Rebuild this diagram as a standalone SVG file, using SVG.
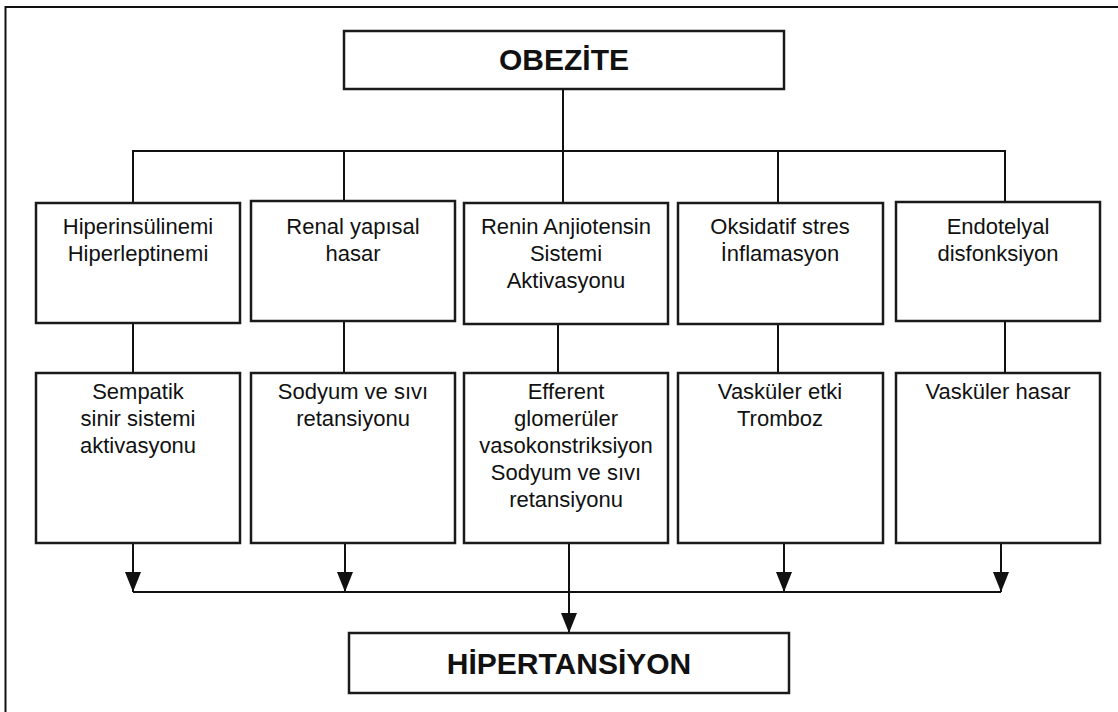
<svg xmlns="http://www.w3.org/2000/svg" width="1118" height="712" viewBox="0 0 1118 712">
  <defs>
    <marker id="arrow" viewBox="0 0 20 16" refX="20" refY="8" markerWidth="20" markerHeight="16" markerUnits="userSpaceOnUse" orient="auto">
      <path d="M0,0 L20,8 L0,16 Z" fill="#111"/>
    </marker>
    <style>
      .box { fill: #fff; stroke: #1a1a1a; stroke-width: 2.5; }
      .line { fill: none; stroke: #111; stroke-width: 2; }
      .t { font-family: "Liberation Sans", Arial, Helvetica, sans-serif; font-size: 22px; fill: #111; text-anchor: middle; }
      .title { font-family: "Liberation Sans", Arial, Helvetica, sans-serif; font-size: 30px; font-weight: bold; fill: #111; text-anchor: middle; }
    </style>
  </defs>
  <rect x="0" y="0" width="1118" height="712" fill="#fff"/>
  <path d="M5.5,712 L5.5,7 L1118,7" fill="none" stroke="#111" stroke-width="2"/>

  <g id="connectors">
    <path class="line" d="M563,89 L563,151"/>
    <path class="line" d="M133,203 L133,151 L1005,151 L1005,202"/>
    <path class="line" d="M344,151 L344,201"/>
    <path class="line" d="M563,151 L563,203"/>
    <path class="line" d="M778,151 L778,203"/>
    <path class="line" d="M133,323 L133,373"/>
    <path class="line" d="M344,321 L344,373"/>
    <path class="line" d="M558,324 L558,373"/>
    <path class="line" d="M778,324 L778,373"/>
    <path class="line" d="M1005,321 L1005,373"/>
    <path class="line" d="M133,543 L133,592" marker-end="url(#arrow)"/>
    <path class="line" d="M345,543 L345,592" marker-end="url(#arrow)"/>
    <path class="line" d="M784,543 L784,592" marker-end="url(#arrow)"/>
    <path class="line" d="M1001,543 L1001,592" marker-end="url(#arrow)"/>
    <path class="line" d="M133,592 L1001,592"/>
    <path class="line" d="M569,543 L569,633" marker-end="url(#arrow)"/>
  </g>

  <g id="obezite">
    <rect class="box" x="344" y="31" width="440" height="58"/>
    <text class="title" x="564" y="70">OBEZİTE</text>
  </g>

  <g id="hiperinsulinemi">
    <rect class="box" x="36" y="203" width="204" height="120"/>
    <text class="t" x="138" y="234">Hiperinsülinemi</text>
    <text class="t" x="138" y="261">Hiperleptinemi</text>
  </g>
  <g id="renal">
    <rect class="box" x="251" y="201" width="204" height="120"/>
    <text class="t" x="353" y="234">Renal yapısal</text>
    <text class="t" x="353" y="261">hasar</text>
  </g>
  <g id="renin">
    <rect class="box" x="464" y="203" width="204" height="121"/>
    <text class="t" x="566" y="234">Renin Anjiotensin</text>
    <text class="t" x="566" y="261">Sistemi</text>
    <text class="t" x="566" y="288">Aktivasyonu</text>
  </g>
  <g id="oksidatif">
    <rect class="box" x="678" y="203" width="205" height="121"/>
    <text class="t" x="780" y="234">Oksidatif stres</text>
    <text class="t" x="780" y="261">İnflamasyon</text>
  </g>
  <g id="endotelyal">
    <rect class="box" x="896" y="202" width="204" height="119"/>
    <text class="t" x="998" y="234">Endotelyal</text>
    <text class="t" x="998" y="261">disfonksiyon</text>
  </g>

  <g id="sempatik">
    <rect class="box" x="36" y="373" width="204" height="170"/>
    <text class="t" x="138" y="399">Sempatik</text>
    <text class="t" x="138" y="426">sinir sistemi</text>
    <text class="t" x="138" y="453">aktivasyonu</text>
  </g>
  <g id="sodyum">
    <rect class="box" x="251" y="373" width="204" height="170"/>
    <text class="t" x="353" y="399">Sodyum ve sıvı</text>
    <text class="t" x="353" y="426">retansiyonu</text>
  </g>
  <g id="efferent">
    <rect class="box" x="464" y="373" width="204" height="170"/>
    <text class="t" x="566" y="399">Efferent</text>
    <text class="t" x="566" y="426">glomerüler</text>
    <text class="t" x="566" y="453">vasokonstriksiyon</text>
    <text class="t" x="566" y="480">Sodyum ve sıvı</text>
    <text class="t" x="566" y="507">retansiyonu</text>
  </g>
  <g id="vaskuler-etki">
    <rect class="box" x="678" y="373" width="205" height="170"/>
    <text class="t" x="780" y="399">Vasküler etki</text>
    <text class="t" x="780" y="426">Tromboz</text>
  </g>
  <g id="vaskuler-hasar">
    <rect class="box" x="896" y="373" width="204" height="170"/>
    <text class="t" x="998" y="399">Vasküler hasar</text>
  </g>

  <g id="hipertansiyon">
    <rect class="box" x="349" y="633" width="440" height="60"/>
    <text class="title" x="569" y="674">HİPERTANSİYON</text>
  </g>
</svg>
